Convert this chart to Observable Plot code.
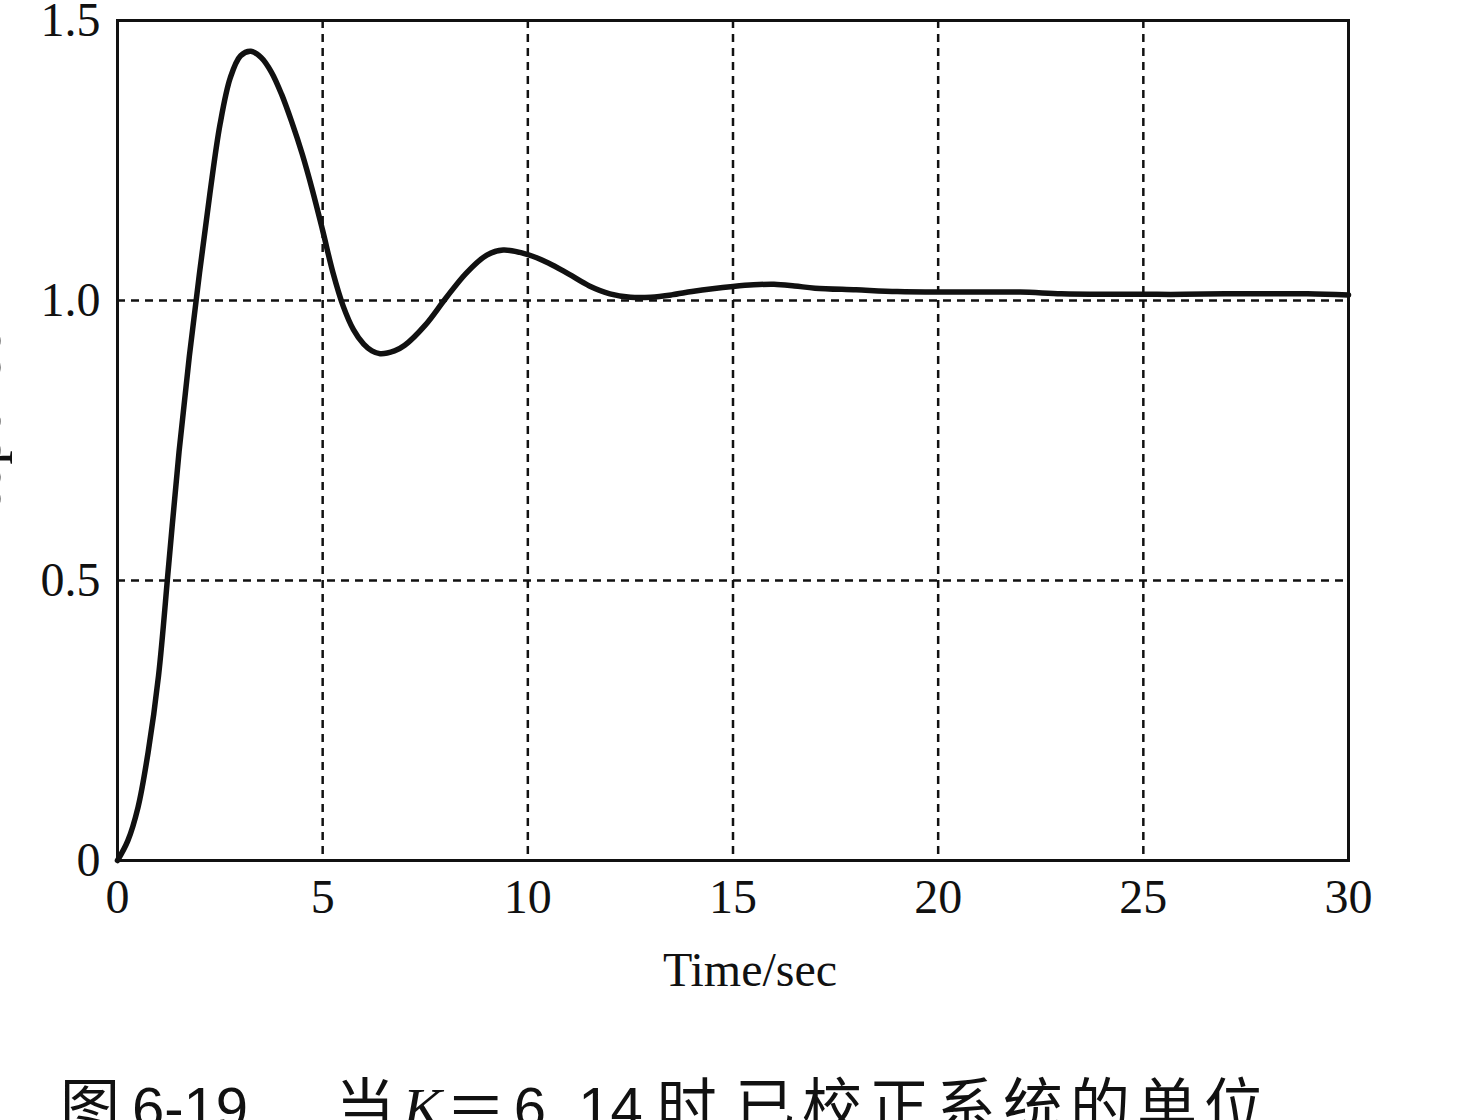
<!DOCTYPE html>
<html><head><meta charset="utf-8">
<script src="https://cdn.jsdelivr.net/npm/d3@7"></script>
<script src="https://cdn.jsdelivr.net/npm/@observablehq/plot@0.6"></script>
<style>
body{margin:0;background:#fff;}
#wrap{position:relative;width:1459px;height:1120px;overflow:hidden;background:#fff;}
#caption{position:absolute;left:60px;top:1066px;white-space:pre;font-family:"Noto Sans CJK SC";font-size:60px;line-height:1.2;color:#111;}
#caption .lat{font-family:"Liberation Sans";font-size:58px;}
#caption .it{font-family:"Liberation Serif";font-style:italic;font-size:58px;}
#caption .sp{letter-spacing:7px;}
</style></head>
<body><div id="wrap"><div id="chart"></div>
<div id="caption"><span>图</span><span class="lat" style="margin-left:12px">6-19</span><span style="margin-left:87px">当</span><span class="it" style="margin-left:8px">K</span><span style="margin-left:4px">＝</span><span class="lat" style="margin-left:8px">6. 14</span><span style="margin-left:14px">时</span><span class="lat">,</span><span class="sp" style="margin-left:2px">已校正系统的单位</span></div>
</div>
<script>
const time = [0, 0.25, 0.5, 0.75, 1.0, 1.25, 1.5, 1.75, 2.0, 2.25, 2.5, 2.75, 3.0, 3.25, 3.5, 3.75, 4.0, 4.25, 4.5, 4.75, 5.0, 5.25, 5.5, 5.75, 6.0, 6.2, 6.4, 6.75, 7.0, 7.5, 8.0, 8.5, 9.0, 9.4, 10.0, 10.5, 11.0, 11.5, 12.0, 12.5, 13.0, 13.5, 14.0, 14.5, 15.0, 15.5, 16.0, 16.5, 17.0, 18.0, 19.0, 20.0, 21.0, 22.0, 23.0, 24.0, 25.0, 26.0, 27.0, 28.0, 29.0, 30.0];
const response = [0, 0.035, 0.095, 0.195, 0.33, 0.53, 0.73, 0.90, 1.05, 1.19, 1.315, 1.398, 1.437, 1.445, 1.434, 1.408, 1.368, 1.318, 1.262, 1.197, 1.125, 1.05, 0.99, 0.948, 0.922, 0.910, 0.905, 0.910, 0.920, 0.956, 1.004, 1.049, 1.081, 1.090, 1.082, 1.067, 1.047, 1.026, 1.012, 1.006, 1.006, 1.010, 1.016, 1.021, 1.025, 1.028, 1.029, 1.026, 1.022, 1.019, 1.016, 1.015, 1.015, 1.015, 1.012, 1.011, 1.011, 1.011, 1.012, 1.012, 1.012, 1.010];
const xTicks = [0, 5, 10, 15, 20, 25, 30];
const yTicks = [0, 0.5, 1.0, 1.5];
const xGrid = [5, 10, 15, 20, 25];
const yGrid = [0.5, 1.0];
const xLabel = "Time/sec";
const yLabel = "Response";

const data = time.map((t, i) => ({t, r: response[i]}));
const ink = "#111";
const chart = Plot.plot({
  width: 1459, height: 1010,
  marginLeft: 117, marginRight: 111, marginTop: 20, marginBottom: 150,
  style: {fontFamily: "Liberation Serif", fontSize: "48px", color: ink, background: "transparent", overflow: "visible"},
  x: {domain: [0, 30]},
  y: {domain: [0, 1.5]},
  marks: [
    Plot.ruleX(xGrid, {stroke: ink, strokeWidth: 2.5, strokeDasharray: "8,6"}),
    Plot.ruleY(yGrid, {stroke: ink, strokeWidth: 2.5, strokeDasharray: "8,6"}),
    Plot.line(data, {x: "t", y: "r", stroke: ink, strokeWidth: 5.5, curve: "catmull-rom"}),
    Plot.frame({stroke: ink, strokeWidth: 3}),
    Plot.axisX(xTicks, {tickSize: 0, tickPadding: 18, label: null, fontSize: 48}),
    Plot.axisY(yTicks, {tickSize: 0, tickPadding: 17, label: null, fontSize: 48, tickFormat: d => d === 0 ? "0" : d.toFixed(1)}),
    Plot.text([xLabel], {frameAnchor: "bottom", dx: 17, dy: 125, lineAnchor: "bottom", fontSize: 48, fill: ink}),
    Plot.text([yLabel], {frameAnchor: "left", textAnchor: "middle", rotate: -90, dx: -118, lineAnchor: "bottom", fontSize: 58, fill: ink})
  ]
});
document.getElementById("chart").appendChild(chart);
</script>
</body></html>
